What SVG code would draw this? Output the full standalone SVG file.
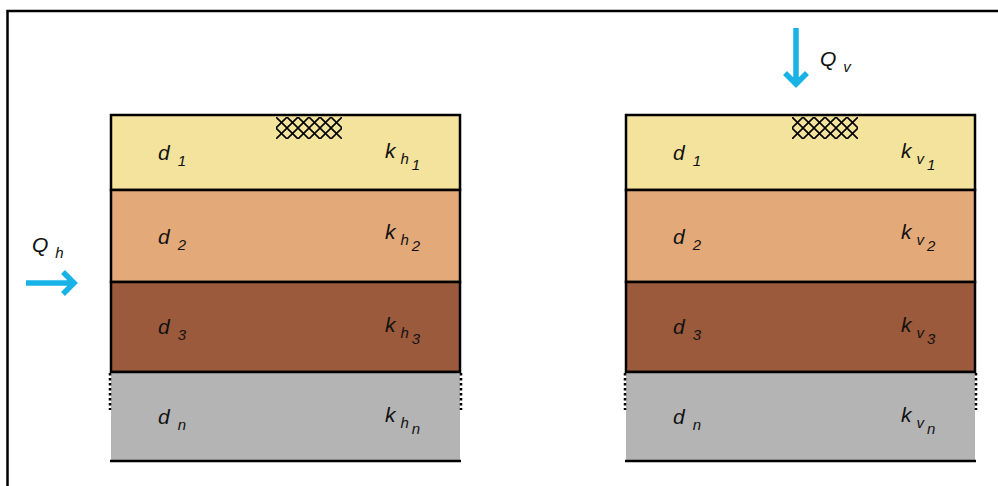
<svg xmlns="http://www.w3.org/2000/svg" width="998" height="486" viewBox="0 0 998 486">
<defs>
<style>
.t{font-family:"Liberation Sans",Arial,sans-serif;font-style:italic;fill:#111}
.m{font-size:21px}
.s{font-size:15px}
.l{stroke:#000;stroke-width:2.5}
.arr{stroke:#18b2e6;stroke-width:5.5;fill:none}
.dot{stroke:#000;stroke-width:2.5;stroke-dasharray:2.5 2.5}
</style>
<pattern id="hatch" x="276" y="117" width="11" height="11" patternUnits="userSpaceOnUse">
<path d="M0,0 L11,11 M11,0 L0,11" stroke="#000" stroke-width="1.6"/>
</pattern>
<pattern id="hatch2" x="792" y="117" width="11" height="11" patternUnits="userSpaceOnUse">
<path d="M0,0 L11,11 M11,0 L0,11" stroke="#000" stroke-width="1.6"/>
</pattern>
</defs>
<rect width="998" height="486" fill="#fff"/>
<path d="M7.5,486 V11 H998" fill="none" stroke="#000" stroke-width="2.5"/>

<g id="left">
<rect x="111" y="115" width="349" height="75" fill="#f4e39c" class="l"/>
<rect x="111" y="190" width="349" height="92" fill="#e4a979" class="l"/>
<rect x="111" y="282" width="349" height="90" fill="#9b5a3b" class="l"/>
<rect x="111" y="372" width="349" height="89" fill="#b4b4b4"/>
<line x1="111" y1="372" x2="460" y2="372" class="l"/>
<line x1="110" y1="461" x2="461" y2="461" class="l"/>
<line x1="110" y1="373" x2="110" y2="410" class="dot"/>
<line x1="461" y1="373" x2="461" y2="410" class="dot"/>
<rect x="276" y="117" width="66" height="22" fill="url(#hatch)"/>
<text class="t m" x="158" y="160">d<tspan class="s" dx="8" dy="6">1</tspan></text>
<text class="t m" x="158" y="244">d<tspan class="s" dx="8" dy="6">2</tspan></text>
<text class="t m" x="158" y="334">d<tspan class="s" dx="8" dy="6">3</tspan></text>
<text class="t m" x="158" y="424">d<tspan class="s" dx="8" dy="6">n</tspan></text>
<text class="t m" x="385" y="158">k<tspan class="s" dx="5" dy="6">h</tspan><tspan class="s" dx="3" dy="6">1</tspan></text>
<text class="t m" x="385" y="239">k<tspan class="s" dx="5" dy="6">h</tspan><tspan class="s" dx="3" dy="6">2</tspan></text>
<text class="t m" x="385" y="332">k<tspan class="s" dx="5" dy="6">h</tspan><tspan class="s" dx="3" dy="6">3</tspan></text>
<text class="t m" x="385" y="422">k<tspan class="s" dx="5" dy="6">h</tspan><tspan class="s" dx="3" dy="6">n</tspan></text>
</g>

<g id="right">
<rect x="626" y="115" width="349" height="75" fill="#f4e39c" class="l"/>
<rect x="626" y="190" width="349" height="92" fill="#e4a979" class="l"/>
<rect x="626" y="282" width="349" height="90" fill="#9b5a3b" class="l"/>
<rect x="626" y="372" width="349" height="89" fill="#b4b4b4"/>
<line x1="626" y1="372" x2="975" y2="372" class="l"/>
<line x1="625" y1="461" x2="976" y2="461" class="l"/>
<line x1="625" y1="373" x2="625" y2="410" class="dot"/>
<line x1="976" y1="373" x2="976" y2="410" class="dot"/>
<rect x="792" y="117" width="66" height="22" fill="url(#hatch2)"/>
<text class="t m" x="673" y="160">d<tspan class="s" dx="8" dy="6">1</tspan></text>
<text class="t m" x="673" y="244">d<tspan class="s" dx="8" dy="6">2</tspan></text>
<text class="t m" x="673" y="334">d<tspan class="s" dx="8" dy="6">3</tspan></text>
<text class="t m" x="673" y="424">d<tspan class="s" dx="8" dy="6">n</tspan></text>
<text class="t m" x="901" y="158">k<tspan class="s" dx="5" dy="6">v</tspan><tspan class="s" dx="3" dy="6">1</tspan></text>
<text class="t m" x="901" y="239">k<tspan class="s" dx="5" dy="6">v</tspan><tspan class="s" dx="3" dy="6">2</tspan></text>
<text class="t m" x="901" y="332">k<tspan class="s" dx="5" dy="6">v</tspan><tspan class="s" dx="3" dy="6">3</tspan></text>
<text class="t m" x="901" y="422">k<tspan class="s" dx="5" dy="6">v</tspan><tspan class="s" dx="3" dy="6">n</tspan></text>
</g>

<g id="connectors">
<g id="Qh">
<path d="M26,283 H74 M63,272 L74,283 L63,294" class="arr"/>
<text class="t m" x="32" y="252">Q<tspan class="s" dx="7" dy="6">h</tspan></text>
</g>
<g id="Qv">
<path d="M796,28 V84 M785,73 L796,84 L807,73" class="arr"/>
<text class="t m" x="820" y="66">Q<tspan class="s" dx="7" dy="6">v</tspan></text>
</g>
</g>
</svg>
